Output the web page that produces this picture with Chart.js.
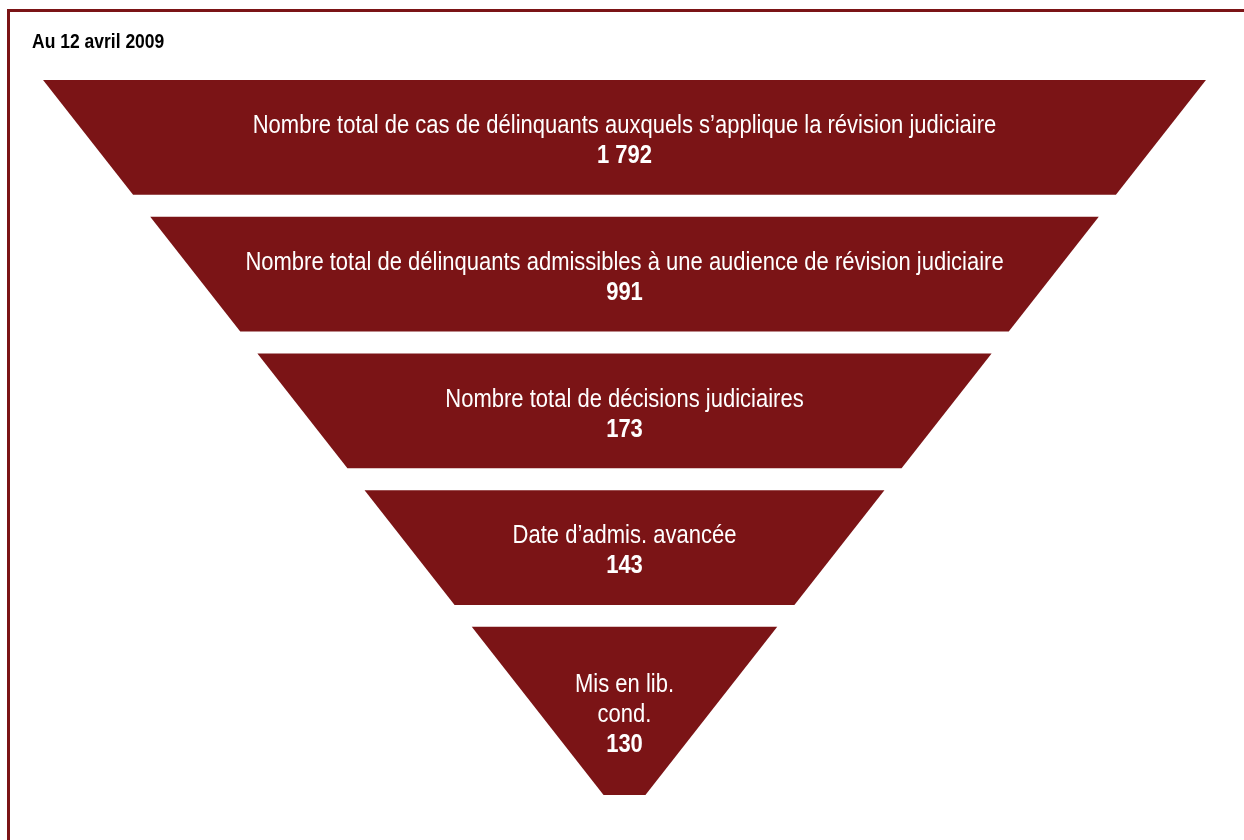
<!DOCTYPE html>
<html lang="fr">
<head>
<meta charset="utf-8">
<title>Révision judiciaire</title>
<script src="https://cdn.jsdelivr.net/npm/chart.js@4.4.1/dist/chart.umd.min.js"></script>
<style>
  html, body { margin: 0; padding: 0; background: #fff; overflow: hidden; }
  #frame {
    position: absolute; left: 7px; top: 9px;
    width: 1300px; height: 900px;
    border: 3px solid #7b1416;
  }
  #wrap { position: absolute; left: 0; top: 0; width: 1244px; height: 840px; }
</style>
</head>
<body>
<div id="frame"></div>
<div id="wrap"><canvas id="funnel"></canvas></div>
<script>
// Data
const asOf = 'Au 12 avril 2009';
const stages = [
  ['Nombre total de cas de délinquants auxquels s’applique la révision judiciaire'],
  ['Nombre total de délinquants admissibles à une audience de révision judiciaire'],
  ['Nombre total de décisions judiciaires'],
  ['Date d’admis. avancée'],
  ['Mis en lib.', 'cond.']
];
const counts = [1792, 991, 173, 143, 130];

const RED = '#7b1416';
const FONT = '"Liberation Sans", Arial, sans-serif';
const NARROW = 0.88; // no Arial Narrow here, squeeze the regular face instead

// funnel layout: one band per stage, last one is taller and ends in a tip
const bandH = 0.84;
const lastBandH = 1.23;
const yMax = stages.length - 1 + lastBandH;
const tipHalf = 0.036;
const taper = (1 - tipHalf) / yMax;
const half = y => 1 - taper * y;

function bandOf(i) {
  const top = i;
  const bottom = i + (i === stages.length - 1 ? lastBandH : bandH);
  return { top, bottom };
}

const datasets = stages.map((s, i) => {
  const b = bandOf(i);
  return {
    data: [
      { x: -half(b.top), y: b.top },
      { x: half(b.top), y: b.top },
      { x: half(b.bottom), y: b.bottom },
      { x: -half(b.bottom), y: b.bottom },
      { x: -half(b.top), y: b.top }
    ],
    showLine: true,
    fill: 'shape',
    backgroundColor: RED,
    borderColor: RED,
    borderWidth: 0,
    pointRadius: 0,
    tension: 0
  };
});

const fmt = n => String(n).replace(/\B(?=(\d{3})+(?!\d))/g, ' ');

function narrowText(ctx, text, x, y, scale) {
  ctx.save();
  ctx.translate(x, y);
  ctx.scale(scale, 1);
  ctx.fillText(text, 0, 0);
  ctx.restore();
}

const stageText = {
  id: 'stageText',
  afterDatasetsDraw(chart) {
    const { ctx, scales, chartArea } = chart;
    const cx = scales.x.getPixelForValue(0);
    const lh = 30;
    ctx.save();

    // date line, top left
    ctx.fillStyle = '#000';
    ctx.textAlign = 'left';
    ctx.textBaseline = 'alphabetic';
    ctx.font = 'bold 20px ' + FONT;
    narrowText(ctx, asOf, chartArea.left, 48, 0.875);

    ctx.fillStyle = '#fff';
    ctx.textAlign = 'center';
    ctx.textBaseline = 'middle';
    stages.forEach((lines, i) => {
      const b = bandOf(i);
      const mid = (scales.y.getPixelForValue(b.top) + scales.y.getPixelForValue(b.bottom)) / 2 + 4;
      const n = lines.length + 1;
      let y = mid - (n - 1) * lh / 2;
      ctx.font = '25px ' + FONT;
      lines.forEach(t => { narrowText(ctx, t, cx, y, NARROW); y += lh; });
      ctx.font = 'bold 25px ' + FONT;
      narrowText(ctx, fmt(counts[i]), cx, y, NARROW);
    });
    ctx.restore();
  }
};

new Chart(document.getElementById('funnel'), {
  type: 'scatter',
  data: { datasets },
  options: {
    responsive: true,
    maintainAspectRatio: false,
    animation: false,
    layout: { padding: { left: 32, right: 27, top: 80, bottom: 45 } },
    scales: {
      x: { display: false, min: -1.019, max: 1.019 },
      y: { display: false, min: 0, max: yMax, reverse: true }
    },
    plugins: {
      legend: { display: false },
      tooltip: { enabled: false },
      title: { display: false }
    }
  },
  plugins: [stageText]
});
</script>
</body>
</html>
